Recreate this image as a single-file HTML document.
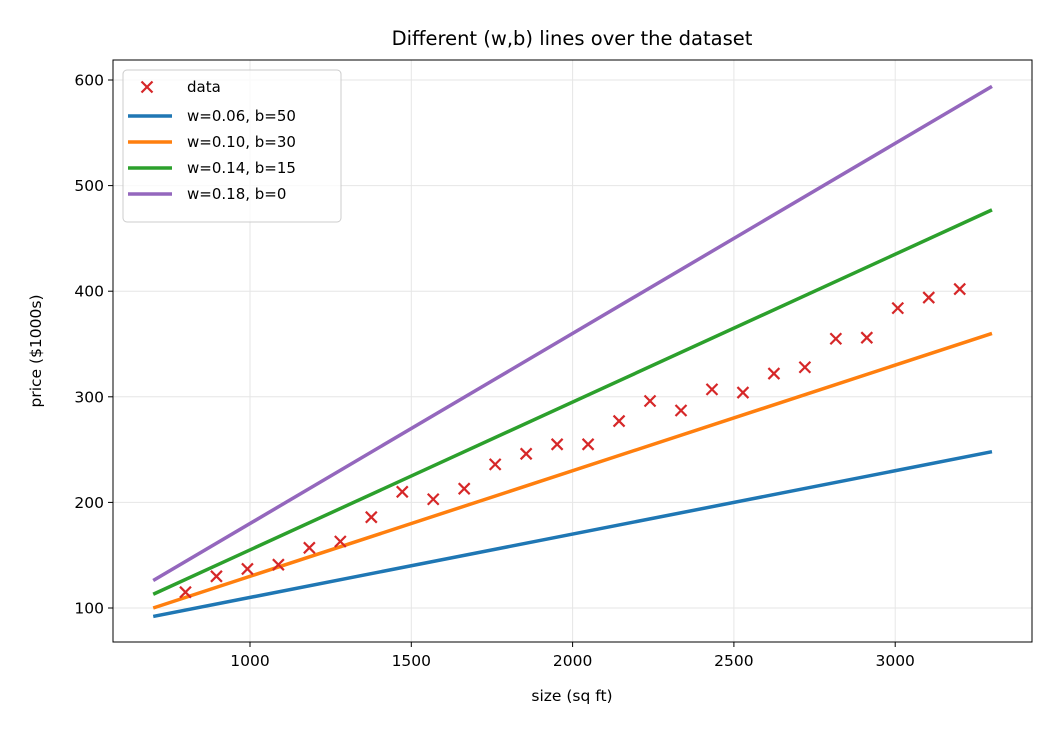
<!DOCTYPE html>
<html><head><meta charset="utf-8"><style>
body{margin:0;background:#fff;}
svg{display:block;font-family:"DejaVu Sans","Liberation Sans",sans-serif;}
</style></head><body>
<svg id="chart" width="1056" height="736">
<text x="572" y="45" text-anchor="middle" font-size="19.5">Different (w,b) lines over the dataset</text>
<g id="grid"></g><g id="lines"></g><g id="pts"></g><g id="axes"></g>
<text x="572" y="701" text-anchor="middle" font-size="15.5">size (sq ft)</text>
<text transform="translate(41,351) rotate(-90)" text-anchor="middle" font-size="15.5">price ($1000s)</text>
<g id="legend"></g>
</svg>
<script>
const dataX=[800,896,992,1088,1184,1280,1376,1472,1568,1664,1760,1856,1952,2048,2144,2240,2336,2432,2528,2624,2720,2816,2912,3008,3104,3200];
const dataY=[115,130,137,141,157,163,186,210,203,213,236,246,255,255,277,296,287,307,304,322,328,355,356,384,394,402];
const weights=[0.06,0.10,0.14,0.18];
const biases=[50,30,15,0];
const lineLabels=["w=0.06, b=50","w=0.10, b=30","w=0.14, b=15","w=0.18, b=0"];
const colors=["#1f77b4","#ff7f0e","#2ca02c","#9467bd"];
const xTicks=[1000,1500,2000,2500,3000];
const yTicks=[100,200,300,400,500,600];
const xRange=[700,3300];
const L=113,R=1032,T=60,B=642;
const sx=v=>250+(v-1000)*161.3/500;
const sy=v=>608-(v-100)*1.056;
const NS="http://www.w3.org/2000/svg";
function mk(t,a,p){const e=document.createElementNS(NS,t);for(const k in a)e.setAttribute(k,a[k]);p.appendChild(e);return e;}
const grid=document.getElementById('grid'),axes=document.getElementById('axes');
xTicks.forEach(v=>{
 const g=mk('line',{x1:sx(v),x2:sx(v),y1:T,y2:B,stroke:'#e6e6e6','stroke-width':1},grid);
 
 mk('line',{x1:sx(v),x2:sx(v),y1:B,y2:B+5,stroke:'#000'},axes);
 const t=mk('text',{x:sx(v),y:B+24,'text-anchor':'middle','font-size':15.5},axes);t.textContent=v;
 
});
yTicks.forEach(v=>{
 const g=mk('line',{x1:L,x2:R,y1:sy(v),y2:sy(v),stroke:'#e6e6e6','stroke-width':1},grid);
 
 mk('line',{x1:L-5,x2:L,y1:sy(v),y2:sy(v),stroke:'#000'},axes);
 const t=mk('text',{x:L-9,y:sy(v)+5.5,'text-anchor':'end','font-size':15.5},axes);t.textContent=v;
 
});
const fr=mk('rect',{x:L,y:T,width:R-L,height:B-T,fill:'none',stroke:'#000','stroke-width':1},axes);

const lg=document.getElementById('lines');
weights.forEach((w,i)=>{
 const b=biases[i];
 const l=mk('line',{x1:sx(xRange[0]),y1:sy(w*xRange[0]+b),x2:sx(xRange[1]),y2:sy(w*xRange[1]+b),stroke:colors[i],'stroke-width':3.5},lg);
 
});
const pg=document.getElementById('pts');
function cross(cx,cy,p,s){
 const g=mk('g',{stroke:'#d62728','stroke-width':2.2},p);
 mk('line',{x1:cx-s,y1:cy-s,x2:cx+s,y2:cy+s},g);mk('line',{x1:cx-s,y1:cy+s,x2:cx+s,y2:cy-s},g);return g;
}
dataX.forEach((x,i)=>{
 const g=cross(sx(x),sy(dataY[i]),pg,5.5);
 
});
const leg=document.getElementById('legend');

mk('rect',{x:123,y:70,width:218,height:152,rx:4,fill:'#fff','fill-opacity':0.8,stroke:'#ccc'},leg);
const e0=cross(147,87,leg,5.5);
let t0=mk('text',{x:187,y:92,'font-size':15},leg);t0.textContent='data';
lineLabels.forEach((s,i)=>{
 const y=116+i*26;
 const l=mk('line',{x1:128,x2:172,y1:y,y2:y,stroke:colors[i],'stroke-width':3.5},leg);
 
 const t=mk('text',{x:187,y:y+5,'font-size':15},leg);t.textContent=s;
});
</script>
</body></html>
